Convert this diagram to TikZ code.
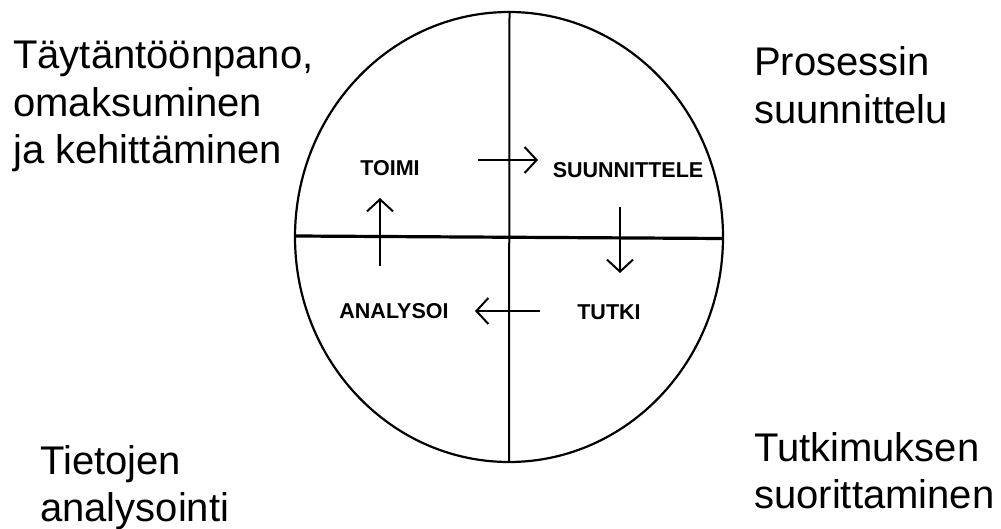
\documentclass[tikz,border=0pt]{standalone}
\usepackage{fontspec}
\setmainfont{Liberation Sans}
\usetikzlibrary{arrows.meta}
\begin{document}
\begin{tikzpicture}[x=1pt,y=-1pt,
  big/.style={anchor=base west,inner sep=0pt,font=\fontsize{40}{47.5}\selectfont,align=left},
  small/.style={inner sep=0pt,font=\fontsize{21.5}{24}\selectfont\bfseries},
  flow/.style={line width=2pt,-{Straight Barb[length=12pt,width=26pt,line width=2pt]}},
  axis/.style={line width=2pt}]
\useasboundingbox (0,0) rectangle (1001,529);
\fill[white] (0,0) rectangle (1001,529);
% circle
\draw[line width=2.2pt] (509,237) ellipse [x radius=214, y radius=225];
\coordinate (top) at (509.5,12);
\coordinate (bot) at (509,462);
\coordinate (lft) at (295,236);
\coordinate (rgt) at (723,238.5);
\draw[axis] (top) -- (bot);
\draw[line width=3.2pt] (lft) -- (rgt);
% outer labels
\node[big] (tl1) at (13,69) {Täytäntöönpano,};
\node[big] (tl2) at (13,116.5) {omaksuminen};
\node[big] (tl3) at (13,164) {ja kehittäminen};
\node[big] (tr1) at (754,76) {Prosessin};
\node[big] (tr2) at (754,123.5) {suunnittelu};
\node[big] (bl1) at (40,474) {Tietojen};
\node[big] (bl2) at (40,521.5) {analysointi};
\node[big] (br1) at (754,461) {Tutkimuksen};
\node[big] (br2) at (754,508.5) {suorittaminen};
% inner labels
\node[small] (toimi) at (390,168) {TOIMI};
\node[small] (suun) at (628,170) {SUUNNITTELE};
\node[small] (analy) at (394,311) {ANALYSOI};
\node[small] (tutki) at (609,312.5) {TUTKI};
% arrows
\coordinate (r1) at (478,160); \coordinate (r2) at (538,160);
\coordinate (d1) at (620,207); \coordinate (d2) at (620,273);
\coordinate (l1) at (540,311); \coordinate (l2) at (475,311);
\coordinate (u1) at (380,266); \coordinate (u2) at (380,198);
\draw[flow] (r1) -- (r2);
\draw[flow] (d1) -- (d2);
\draw[flow] (l1) -- (l2);
\draw[flow] (u1) -- (u2);
\end{tikzpicture}
\end{document}
